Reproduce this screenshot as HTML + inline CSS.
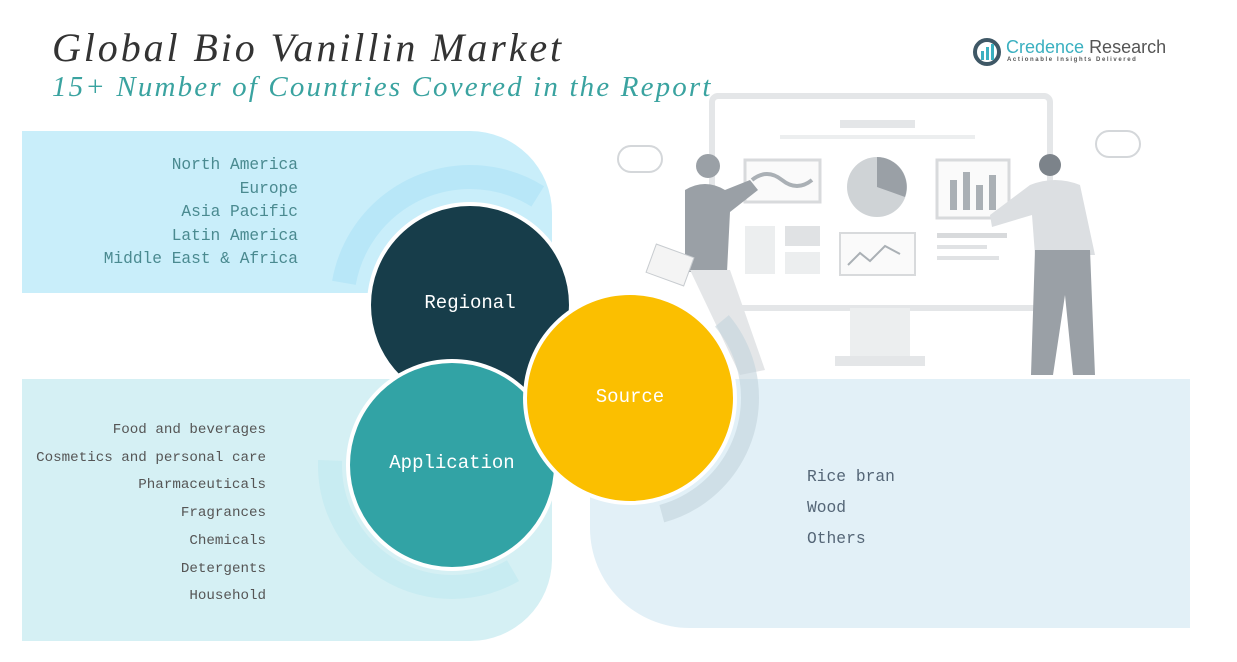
<!DOCTYPE html>
<html><head><meta charset="utf-8"><style>
body{margin:0;width:1237px;height:662px;background:#fff;position:relative;overflow:hidden;font-family:"Liberation Mono","Noto Serif CJK SC",monospace}
.a{position:absolute}
.t{font-family:"Liberation Serif","Noto Serif CJK SC",serif}
</style></head><body>
<svg class="a" style="left:0;top:0" width="1237" height="662">
<rect x="712" y="96" width="338" height="212" rx="6" fill="#fff" stroke="#e4e6e8" stroke-width="6"/>
<rect x="840" y="120" width="75" height="8" fill="#e4e6e8"/>
<rect x="780" y="135" width="195" height="4" fill="#eceeef"/>
<rect x="745" y="160" width="75" height="42" fill="#fafafa" stroke="#d8dadc" stroke-width="3"/>
<path d="M752 180 q15 -12 30 0 t30 0" stroke="#aab0b5" stroke-width="4" fill="none"/>
<circle cx="877" cy="187" r="30" fill="#cfd3d6"/>
<path d="M877 187 L877 157 A30 30 0 0 1 905 197 Z" fill="#9aa0a6"/>
<rect x="937" y="160" width="72" height="58" fill="#fafafa" stroke="#d8dadc" stroke-width="3"/>
<rect x="950" y="180" width="7" height="30" fill="#aab0b5"/><rect x="963" y="172" width="7" height="38" fill="#aab0b5"/><rect x="976" y="185" width="7" height="25" fill="#aab0b5"/><rect x="989" y="175" width="7" height="35" fill="#aab0b5"/>
<rect x="745" y="226" width="30" height="48" fill="#eceeef"/><rect x="785" y="226" width="35" height="20" fill="#e0e2e4"/><rect x="785" y="252" width="35" height="22" fill="#eceeef"/>
<rect x="840" y="233" width="75" height="42" fill="#fafafa" stroke="#d8dadc" stroke-width="2"/>
<path d="M848 265 l12 -12 l10 8 l15 -15 l15 8" stroke="#aab0b5" stroke-width="2" fill="none"/>
<rect x="937" y="233" width="70" height="5" fill="#d8dadc"/><rect x="937" y="245" width="50" height="4" fill="#e0e2e4"/><rect x="937" y="256" width="62" height="4" fill="#e0e2e4"/>
<rect x="850" y="308" width="60" height="50" fill="#eceeef"/><rect x="835" y="356" width="90" height="10" fill="#e4e6e8"/>
<rect x="618" y="146" width="44" height="26" rx="13" fill="#fff" stroke="#d4d7da" stroke-width="2"/>
<rect x="1096" y="131" width="44" height="26" rx="13" fill="#fff" stroke="#d4d7da" stroke-width="2"/>
<circle cx="708" cy="166" r="12" fill="#9aa0a6"/>
<path d="M685 190 q20 -12 40 0 l25 -10 l8 10 l-28 22 l-3 60 l-42 0 z" fill="#9aa0a6"/>
<path d="M690 270 l40 0 l35 100 l-25 5 z" fill="#e4e6e8"/>
<rect x="650" y="250" width="40" height="30" fill="#f4f4f4" stroke="#c8ccd0" transform="rotate(20 670 265)"/>
<circle cx="1050" cy="165" r="11" fill="#7c838a"/>
<path d="M1030 185 q25 -10 50 0 l15 70 l-60 0 l-3 -40 l-40 12 l-2 -12 z" fill="#dcdfe2"/>
<path d="M1035 250 l55 0 l5 125 l-22 0 l-8 -80 l-12 80 l-22 0 z" fill="#9aa0a6"/>
<path d="M22 131 H470 A82 82 0 0 1 552 213 V293 H22 Z" fill="#c9eefa"/>
<path d="M22 379 H552 V560 A82 82 0 0 1 470 641 H22 Z" fill="#d5f0f4"/>
<path d="M590 379 H1190 V628 H690 A100 100 0 0 1 590 528 Z" fill="#e2f0f7"/>
<circle cx="470" cy="305" r="128" fill="none" stroke="#aee3f7" stroke-width="24" opacity="0.6" stroke-dasharray="250 600" transform="rotate(190 470 305)"/>
<circle cx="452" cy="465" r="122" fill="none" stroke="#bfeaf0" stroke-width="24" opacity="0.6" stroke-dasharray="260 600" transform="rotate(60 452 465)"/>
<circle cx="630" cy="398" r="120" fill="none" stroke="#c3d3dc" stroke-width="18" opacity="0.6" stroke-dasharray="240 600" transform="rotate(-40 630 398)"/>
<circle cx="470" cy="305" r="101" fill="#173d4a" stroke="#fff" stroke-width="4"/>
<circle cx="452" cy="465" r="104" fill="#32a3a5" stroke="#fff" stroke-width="4"/>
<circle cx="630" cy="398" r="105" fill="#fbbf00" stroke="#fff" stroke-width="4"/>
</svg>
<div class="a t" style="left:52px;top:24px;font-size:40px;font-style:italic;color:#333;letter-spacing:2.9px;white-space:nowrap">Global Bio Vanillin Market</div>
<div class="a t" style="left:52px;top:71px;font-size:29px;font-style:italic;color:#3aa3a0;letter-spacing:2.15px;white-space:nowrap">15+ Number of Countries Covered in the Report</div>
<svg class="a" style="left:972px;top:37px" width="30" height="30"><circle cx="15" cy="15" r="12" fill="none" stroke="#3f5866" stroke-width="4"/><rect x="9" y="14" width="3" height="9" fill="#3ab0c0"/><rect x="14" y="10" width="3" height="13" fill="#3ab0c0"/><rect x="19" y="7" width="3" height="16" fill="#3ab0c0"/></svg>
<div class="a" style="left:1006px;top:37px;font-family:'Liberation Sans',sans-serif;font-size:18px;color:#3ab0c0;white-space:nowrap">Credence <span style="color:#555">Research</span></div>
<div class="a" style="left:1007px;top:57px;font-family:'Liberation Sans',sans-serif;font-size:6px;letter-spacing:1.6px;color:#555;font-weight:bold;white-space:nowrap">Actionable Insights Delivered</div>
<div class="a" style="right:939px;top:154px;text-align:right;font-size:16.2px;line-height:23.5px;color:#4a8a90;white-space:nowrap">North America<br>Europe<br>Asia Pacific<br>Latin America<br>Middle East &amp; Africa</div>
<div class="a" style="right:971px;top:417px;text-align:right;font-size:14.2px;line-height:27.7px;color:#555;white-space:nowrap">Food and beverages<br>Cosmetics and personal care<br>Pharmaceuticals<br>Fragrances<br>Chemicals<br>Detergents<br>Household</div>
<div class="a" style="left:807px;top:461px;font-size:16.3px;line-height:31px;color:#567">Rice bran<br>Wood<br>Others</div>
<div class="a" style="left:420px;top:292px;width:100px;text-align:center;font-size:19px;color:#fff">Regional</div>
<div class="a" style="left:372px;top:452px;width:160px;text-align:center;font-size:19px;color:#fff">Application</div>
<div class="a" style="left:580px;top:386px;width:100px;text-align:center;font-size:19px;color:#fff">Source</div>
</body></html>
